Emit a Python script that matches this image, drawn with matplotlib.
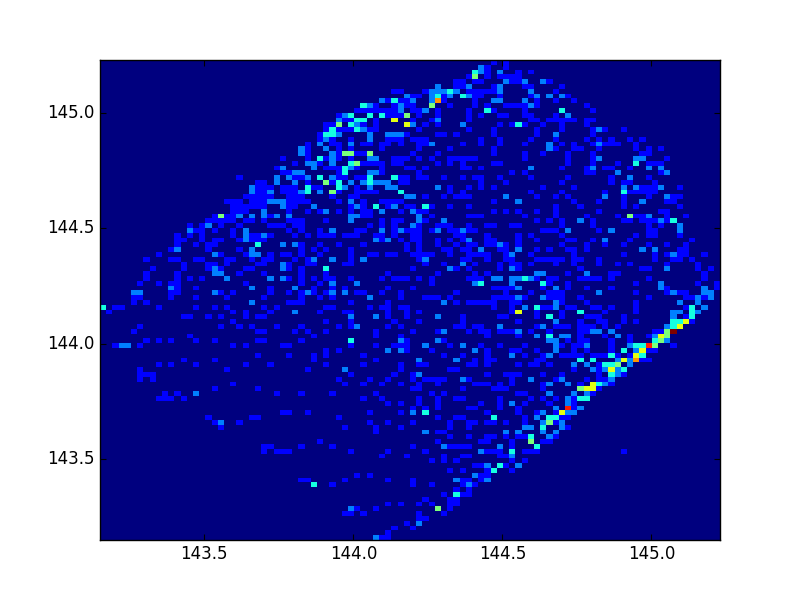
import numpy as np
import matplotlib
matplotlib.use('Agg')
import matplotlib.pyplot as plt
from matplotlib.transforms import ScaledTranslation

# 2d histogram, counts: {row from top: [columns]}
n_bins = 100
axis_min = 143.15
axis_max = 145.23
ticks = [143.5, 144.0, 144.5, 145.0]

count1 = {
    0: [63, 65],
    1: [62, 65],
    2: [62, 67, 69],
    3: [59, 62, 64, 65, 66, 67],
    4: [57, 58, 60, 61, 66, 67, 72],
    5: [57, 58, 63, 68, 69, 74],
    6: [47, 48, 52, 59, 60, 61, 62, 63, 73],
    7: [50, 51, 55, 60, 61, 64, 69, 75],
    8: [46, 48, 49, 55, 60, 70, 73, 76],
    9: [44, 47, 49, 50, 56, 60, 62, 65, 66, 67, 68, 70, 78],
    10: [41, 42, 43, 44, 45, 46, 47, 50, 51, 54, 59, 63, 68, 79],
    11: [38, 46, 47, 48, 51, 54, 59, 61, 64, 65, 68, 69, 73],
    12: [39, 40, 44, 50, 53, 59, 69, 70, 72, 73, 74, 75, 76, 78, 79],
    13: [36, 37, 42, 44, 52, 54, 64, 66, 68, 71, 74, 78],
    14: [36, 38, 39, 40, 43, 44, 51, 59, 63, 70, 74, 79, 81, 84],
    15: [35, 49, 54, 55, 57, 63, 70, 79],
    16: [35, 37, 40, 46, 47, 48, 50, 51, 52, 61, 64, 69, 73, 78, 80, 82, 85, 87],
    17: [33, 37, 38, 42, 43, 45, 46, 48, 51, 52, 58, 61, 64, 68, 74, 76, 79, 81, 82, 83, 86],
    18: [33, 38, 40, 45, 51, 56, 63, 73, 76, 77, 80, 86, 88, 90],
    19: [33, 38, 41, 42, 50, 54, 63, 68, 71, 75, 79, 87, 88],
    20: [29, 33, 36, 38, 40, 47, 48, 49, 51, 53, 56, 57, 58, 59, 60, 68, 75, 79, 91],
    21: [31, 35, 42, 43, 44, 45, 47, 48, 54, 56, 58, 63, 64, 75, 79, 83, 88, 89, 90],
    22: [28, 36, 37, 38, 41, 45, 49, 50, 52, 58, 59, 61, 74, 78, 81, 82, 85],
    23: [29, 30, 38, 45, 51, 66, 68, 78, 79, 90],
    24: [22, 31, 32, 38, 39, 41, 42, 48, 49, 51, 52, 55, 58, 60, 61, 64, 69, 75, 82, 88],
    25: [25, 26, 33, 37, 48, 49, 61, 65, 74, 82, 84, 85, 89],
    26: [25, 26, 27, 29, 30, 31, 34, 35, 41, 56, 59, 61, 63, 71, 76, 87, 88, 89, 93],
    27: [25, 26, 29, 30, 31, 38, 41, 42, 43, 44, 56, 58, 69, 74, 81, 85, 86, 87, 88, 89],
    28: [23, 24, 25, 26, 27, 30, 31, 32, 37, 40, 41, 52, 55, 57, 58, 59, 70, 73, 75, 84, 88, 92, 93],
    29: [20, 21, 22, 24, 25, 26, 30, 31, 32, 33, 38, 42, 45, 46, 47, 48, 63, 76, 80, 84, 91, 92],
    30: [21, 22, 23, 24, 25, 26, 30, 31, 40, 42, 46, 49, 50, 53, 56, 59, 73, 77, 84, 86, 93],
    31: [21, 22, 23, 30, 33, 35, 38, 40, 42, 43, 48, 51, 52, 63, 65, 67, 70, 73, 80, 90, 91],
    32: [18, 20, 21, 27, 42, 43, 53, 59, 60, 61, 68, 73, 78, 83, 86, 87, 91, 94],
    33: [17, 18, 19, 20, 21, 23, 24, 26, 30, 31, 32, 36, 45, 47, 48, 52, 70, 72, 74, 79, 84, 85, 87, 88, 89, 91],
    34: [14, 16, 19, 22, 27, 28, 29, 31, 32, 43, 45, 47, 51, 54, 55, 56, 59, 62, 63, 66, 67, 74, 79, 88, 90],
    35: [15, 16, 18, 21, 30, 32, 35, 41, 42, 47, 49, 50, 51, 53, 56, 57, 59, 60, 71, 72, 73, 80, 88, 89],
    36: [12, 14, 16, 21, 24, 25, 27, 31, 33, 35, 36, 37, 39, 40, 41, 44, 45, 47, 50, 51, 57, 58, 62, 67, 69, 74, 86, 88, 89, 93],
    37: [12, 13, 16, 18, 19, 22, 24, 25, 26, 45, 48, 50, 51, 54, 56, 58, 62, 63, 67, 70, 75, 76, 79, 85, 95],
    38: [12, 15, 17, 18, 32, 35, 38, 42, 49, 51, 54, 57, 59, 60, 62, 63, 65, 67, 74, 78, 81, 84, 88, 91, 94],
    39: [11, 17, 22, 32, 34, 36, 40, 49, 51, 55, 56, 58, 59, 64, 65, 70, 72, 75, 76, 78, 93, 94],
    40: [9, 19, 23, 27, 29, 30, 32, 35, 40, 43, 44, 46, 47, 50, 51, 52, 53, 56, 59, 60, 61, 62, 65, 69, 76, 84, 89, 91, 93, 94, 97],
    41: [7, 11, 12, 15, 16, 20, 21, 24, 26, 27, 31, 33, 40, 51, 58, 59, 62, 65, 66, 70, 71, 72, 73, 74, 76, 77, 80, 89, 92, 93, 95],
    42: [13, 17, 18, 20, 25, 26, 30, 33, 34, 39, 40, 52, 55, 60, 64, 66, 67, 69, 73, 76, 80, 83, 85, 91, 96],
    43: [8, 13, 17, 19, 23, 24, 30, 32, 50, 57, 59, 64, 67, 77, 87, 88, 96, 98],
    44: [7, 12, 22, 26, 32, 36, 46, 54, 60, 62, 75, 82, 83, 97],
    45: [7, 12, 14, 16, 30, 32, 34, 36, 37, 40, 45, 47, 48, 49, 51, 53, 59, 60, 61, 70, 72, 73, 77, 78, 79, 80, 82, 88, 97],
    46: [6, 9, 11, 12, 23, 32, 35, 53, 72, 75, 86, 96, 99],
    47: [12, 15, 27, 34, 37, 39, 46, 50, 63, 64, 65, 66, 71, 75, 78, 82, 91, 99],
    48: [11, 12, 19, 21, 27, 30, 32, 34, 36, 41, 42, 45, 48, 57, 65, 69, 72, 73, 74, 86, 91, 93, 94],
    49: [5, 6, 11, 15, 20, 26, 32, 35, 37, 48, 52, 53, 54, 56, 63, 64, 65, 66, 68, 72, 73, 74, 77, 88, 94, 95, 97],
    50: [5, 7, 30, 31, 32, 40, 46, 57, 59, 60, 61, 62, 63, 66, 67, 74, 78, 86],
    51: [2, 3, 9, 15, 18, 20, 26, 28, 36, 37, 43, 45, 46, 48, 49, 63, 66, 71, 72, 75, 76, 79, 80, 82, 86, 94],
    52: [1, 21, 23, 27, 35, 39, 40, 46, 49, 51, 66, 70, 74, 81, 86],
    53: [13, 14, 17, 19, 23, 25, 26, 46, 49, 58, 64, 65, 70, 74, 78, 79, 80, 84, 92, 94],
    54: [21, 36, 40, 47, 51, 58, 67, 77, 80, 81, 84, 86, 95],
    55: [6, 19, 22, 24, 28, 32, 38, 40, 46, 48, 57, 58, 60, 61, 70, 73, 74, 75, 77, 78, 79, 81, 83],
    56: [5, 25, 26, 31, 33, 36, 44, 50, 54, 59, 61, 62, 64, 65, 66, 69, 72, 77, 78, 89, 90],
    57: [14, 34, 44, 48, 62, 67, 77, 81, 85, 88],
    58: [7, 9, 11, 15, 18, 25, 26, 32, 49, 55, 75, 77, 78, 82, 85],
    59: [2, 6, 21, 23, 29, 30, 40, 44, 47, 48, 49, 56, 61, 64, 68, 74, 76, 77, 82, 92],
    60: [36, 38, 49, 53, 62, 66, 67, 70, 76, 78, 82, 88, 89],
    61: [25, 30, 34, 36, 42, 55, 58, 62, 68, 71, 74, 75, 76, 77, 79, 80, 81, 83, 85],
    62: [13, 18, 34, 44, 60, 62, 63, 70, 71, 87, 88],
    63: [9, 11, 15, 23, 27, 36, 42, 48, 51, 52, 59, 60, 62, 67, 69, 70, 72, 80],
    64: [6, 20, 33, 48, 56, 57, 76, 80],
    65: [6, 7, 8, 40, 47, 50, 62, 65, 66, 67, 71, 74, 80, 84],
    66: [6, 8, 38, 43, 46, 50, 52, 53, 54, 55, 59, 66, 73, 78, 80, 81],
    67: [21, 39, 42, 45, 48, 51, 54, 60, 61, 62, 64, 66, 71, 77, 82],
    68: [18, 25, 50, 51, 58, 63, 64, 65, 71, 80],
    69: [10, 12, 28, 32, 37, 44, 53, 55, 67, 68, 79],
    70: [9, 10, 11, 13, 42, 45, 51, 54, 57, 58, 64, 69, 71, 73, 76],
    71: [46, 48, 51, 54, 61, 64, 68, 72, 76],
    72: [50, 52, 54, 59, 60, 64, 67, 76],
    73: [29, 30, 33, 43, 48, 62, 67, 70, 73],
    74: [17, 24, 25, 38, 54, 57, 58, 68, 74, 75],
    75: [18, 22, 43, 46, 50, 56, 59, 60, 62, 63, 65, 68, 73],
    76: [19, 39, 44, 48, 56, 59, 75],
    77: [44, 54, 55],
    78: [56, 59, 62, 63, 65, 67, 68, 73],
    79: [35, 54, 61, 62, 66, 71, 72],
    80: [26, 27, 32, 37, 50, 56, 57, 58, 59, 66],
    81: [26, 28, 29, 30, 40, 46, 52, 62, 63, 64, 68, 69, 70, 84],
    82: [45, 49, 55, 58, 59, 64, 65],
    83: [53, 55, 57, 66, 68],
    84: [60, 61, 65],
    85: [56, 58, 62, 66],
    86: [41, 43, 61, 62],
    87: [32, 33, 39, 46, 50, 58, 59, 61],
    88: [37, 50, 53, 58, 60],
    89: [57, 59],
    90: [55, 58, 59],
    91: [52, 56, 57],
    92: [46, 48, 51, 53, 56, 57],
    93: [41, 44, 56],
    94: [39, 40, 42, 51, 55],
    95: [51, 52],
    96: [49],
    97: [47, 50],
    98: [46],
    99: [45, 46],
}
count2 = {
    1: [61],
    2: [61, 64],
    4: [65, 68, 71],
    5: [54, 59, 64],
    6: [53, 54, 55, 57, 64, 69],
    7: [49, 53, 56, 59, 70, 72, 74],
    8: [45, 50, 53, 63, 64, 68],
    9: [43, 48, 69],
    10: [48, 52],
    11: [39, 75],
    12: [38, 54],
    13: [41, 50, 58],
    14: [42, 80],
    15: [38, 43, 46, 47, 48, 73],
    16: [36, 43],
    17: [35, 40, 53, 72, 80],
    18: [32, 36, 72],
    19: [32, 37],
    20: [37, 43, 44, 80, 86, 87],
    21: [33, 34, 37],
    22: [29, 34, 40, 69, 79, 88, 90],
    23: [31, 32, 43, 44, 83, 91],
    24: [28, 30, 33, 37, 85],
    25: [28, 31, 40, 42, 44, 45, 46],
    26: [24, 39, 43, 46, 47, 54, 84, 86, 90],
    27: [24, 27, 32, 35],
    28: [49, 50, 65, 81, 91],
    29: [27, 28, 29, 40, 67, 87],
    30: [29, 34, 41, 47],
    31: [26, 36, 45, 50],
    32: [22, 24, 26, 28, 30, 40, 41, 51, 88],
    33: [40, 51, 55, 77, 90],
    34: [17, 50, 93],
    35: [14, 23, 37, 45, 48, 54, 58, 75, 82, 93],
    36: [23, 26],
    37: [23, 44, 46, 59, 81],
    38: [29, 31, 64],
    39: [12, 24, 61, 67, 87, 89],
    40: [18, 24, 25, 66, 92],
    41: [34, 37, 42, 52],
    42: [29, 58],
    43: [18, 29, 56, 66, 91],
    44: [18, 19, 70, 71, 78],
    45: [20, 27, 29, 63, 64, 66, 67, 69],
    46: [37, 41, 60, 66, 90],
    47: [11, 24, 31, 67, 73, 90, 97],
    48: [5, 6, 18, 33, 37, 39, 80, 92, 97, 98],
    49: [43, 67, 71, 96, 98],
    50: [24, 55, 73, 93, 96],
    51: [68, 73, 97],
    52: [31, 92, 93, 96],
    53: [40, 44, 54, 92],
    54: [73],
    55: [41, 64, 71, 91],
    56: [55, 67, 79, 80, 82],
    57: [70, 74, 75, 83, 89],
    58: [48, 54, 72, 73, 91],
    59: [3, 4, 52, 58, 73, 78, 85],
    60: [46, 48, 60, 73, 86],
    61: [66, 72],
    62: [51, 57, 83, 85],
    63: [76, 78, 85],
    64: [39, 79, 81, 83],
    65: [51, 83],
    66: [58, 69, 74, 82],
    67: [72, 75, 81],
    69: [15, 72, 76, 78],
    70: [75],
    71: [66, 75],
    72: [73, 77],
    73: [50, 71, 75, 76],
    74: [70],
    75: [19, 71, 74],
    76: [68, 69, 74],
    77: [52, 65, 67, 71, 73],
    78: [72],
    80: [55, 64],
    81: [61],
    82: [66],
    84: [62, 67],
    86: [60],
    87: [57, 62],
    88: [59],
    93: [40],
    96: [51],
    99: [44],
}
count3 = {
    2: [60],
    6: [56],
    7: [54, 58],
    8: [47],
    9: [42],
    10: [62, 74],
    11: [40, 43, 45],
    12: [41, 42],
    13: [40, 67],
    14: [37, 41],
    15: [36, 37],
    20: [35],
    21: [40, 86],
    22: [39],
    23: [39],
    24: [35, 43, 47],
    25: [38, 43],
    26: [33, 38],
    27: [33, 48, 84],
    30: [44, 52],
    33: [92],
    38: [25],
    43: [36],
    45: [68],
    46: [61, 71],
    51: [0, 70, 95],
    52: [77, 95],
    53: [72, 95],
    54: [92, 93],
    55: [92],
    57: [72],
    58: [40, 89],
    59: [86, 87],
    60: [84],
    61: [82, 87],
    62: [77, 79],
    63: [81, 82],
    64: [84],
    65: [82],
    67: [80],
    70: [77, 78],
    73: [52],
    74: [63, 72, 73],
    76: [71],
    78: [69],
    80: [70],
    81: [66],
    84: [64],
    85: [63],
    88: [34],
    90: [57],
}
count4 = {
    3: [60],
    9: [53],
    11: [49],
    13: [38],
    19: [39, 40, 43],
    21: [41],
    25: [36],
    27: [37],
    32: [19, 85],
    56: [91],
    57: [91],
    58: [90],
    59: [89],
    63: [83],
    68: [77],
    75: [72],
    79: [69],
    93: [54],
}
count5 = {
    12: [47],
    13: [49],
    52: [67],
    54: [94],
    55: [93],
    57: [90],
    60: [87],
    61: [86],
    62: [84],
    64: [82],
    67: [79],
    68: [78, 79],
    73: [74],
}
count6 = {
    8: [54],
    62: [86],
}
count7 = {
    59: [88],
    72: [75],
}
count8 = {
    56: [92],
}

counts = [count1, count2, count3, count4, count5, count6, count7, count8]

grid = np.zeros((n_bins, n_bins))
for ii, cc in enumerate(counts):
    for row, cols in cc.items():
        for col in cols:
            grid[row, col] = ii + 1

fig = plt.figure(figsize=(8, 6), dpi=100)
ax = plt.gca()
plt.imshow(grid, cmap='jet', vmin=0, vmax=8, aspect='auto', interpolation='nearest',
           origin='upper', extent=[axis_min, axis_max, axis_min, axis_max])
plt.xticks(ticks, ['%.1f' % t for t in ticks], fontsize=12)
plt.yticks(ticks, ['%.1f' % t for t in ticks], fontsize=12)
plt.tick_params(direction='in', top=True, right=True, length=4, color='black')
for spine in ax.spines.values():
    spine.set_linewidth(1.0)
# y labels sit a bit higher and further left in the reference
shift = ScaledTranslation(-1/100, 2/100, fig.dpi_scale_trans)
for label in ax.get_yticklabels():
    label.set_transform(label.get_transform() + shift)
plt.subplots_adjust(left=0.125, right=0.9, bottom=0.1, top=0.9)
plt.savefig('out.png', dpi=100)
